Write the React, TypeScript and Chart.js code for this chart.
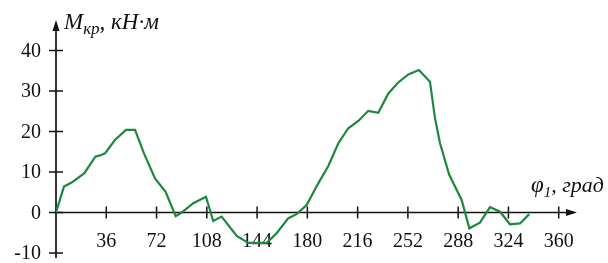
import React, { useEffect, useRef } from "react";
import { Chart, registerables } from "chart.js";

Chart.register(...registerables);

// Crank angle φ1, degrees
const phi: number[] = [
  0, 5.7, 11.2, 20.3, 28.2, 31.5, 35.1, 42.2, 50.1, 56.6, 63.0, 70.9, 78.5, 85.7, 90,
  98.3, 107.4, 112.6, 118.6, 129.4, 137.7, 150.9, 158, 166.4, 172.3, 179.5, 187.8,
  195.0, 202.2, 209.3, 216.5, 223.6, 230.8, 238.0, 245.1, 252.3, 259.9, 267.8, 271.4,
  275.0, 281.6, 290.5, 296, 303.6, 310.8, 318, 325.1, 332.3, 338.9,
];
// Torque M_кр, кН·м
const torque: number[] = [
  0, 6.4, 7.4, 9.7, 13.8, 14.1, 14.6, 17.9, 20.4, 20.4, 14.6, 8.4, 5.1, -0.9, 0,
  2.3, 3.9, -2.1, -1.0, -5.8, -7.5, -7.5, -5.1, -1.4, -0.4, 1.85, 7.2,
  11.5, 17.1, 20.8, 22.6, 25.1, 24.6, 29.4, 32.1, 34.1, 35.2, 32.3, 23.3,
  17.1, 9.3, 3.1, -3.9, -2.5, 1.3, 0.2, -2.9, -2.7, -0.4,
];
const xTicks: number[] = [36, 72, 108, 144, 180, 216, 252, 288, 324, 360];
const yTicks: number[] = [-10, 0, 10, 20, 30, 40];

const FONT = '"Liberation Serif", "Times New Roman", serif';

const axesPlugin = {
  id: "customAxes",
  beforeDatasetsDraw(chart: any) {
    const { ctx, chartArea, scales } = chart;
    const xs = scales.x;
    const ys = scales.y;
    const x0 = xs.getPixelForValue(0);
    const y0 = ys.getPixelForValue(0);
    ctx.save();
    ctx.strokeStyle = "#111";
    ctx.fillStyle = "#111";
    ctx.lineWidth = 1.7;
    // y axis
    ctx.beginPath();
    ctx.moveTo(x0, chartArea.bottom);
    ctx.lineTo(x0, chartArea.top + 6);
    ctx.stroke();
    ctx.beginPath();
    ctx.moveTo(x0, chartArea.top);
    ctx.lineTo(x0 - 3.5, chartArea.top + 11);
    ctx.lineTo(x0 + 3.5, chartArea.top + 11);
    ctx.closePath();
    ctx.fill();
    // x axis
    ctx.beginPath();
    ctx.moveTo(x0, y0);
    ctx.lineTo(chartArea.right - 6, y0);
    ctx.stroke();
    ctx.beginPath();
    ctx.moveTo(chartArea.right, y0);
    ctx.lineTo(chartArea.right - 11, y0 - 3.5);
    ctx.lineTo(chartArea.right - 11, y0 + 3.5);
    ctx.closePath();
    ctx.fill();
    // ticks
    ctx.lineWidth = 1.5;
    xTicks.forEach((v) => {
      const px = xs.getPixelForValue(v);
      ctx.beginPath();
      ctx.moveTo(px, y0 - 6);
      ctx.lineTo(px, y0 + 6);
      ctx.stroke();
    });
    yTicks.forEach((v) => {
      const py = ys.getPixelForValue(v);
      ctx.beginPath();
      ctx.moveTo(x0 - 7, py);
      ctx.lineTo(x0 + 7, py);
      ctx.stroke();
    });
    // tick labels
    ctx.font = `20px ${FONT}`;
    ctx.textAlign = "center";
    ctx.textBaseline = "alphabetic";
    xTicks.forEach((v) => {
      ctx.fillText(String(v), xs.getPixelForValue(v), y0 + 34);
    });
    ctx.textAlign = "right";
    ctx.textBaseline = "middle";
    yTicks.forEach((v) => {
      ctx.fillText(String(v), x0 - 15, ys.getPixelForValue(v) + 1);
    });
    // axis titles
    ctx.textAlign = "left";
    ctx.textBaseline = "alphabetic";
    let tx = x0 + 8;
    const ty = 29;
    ctx.font = `italic 23px ${FONT}`;
    ctx.fillText("M", tx, ty);
    tx += ctx.measureText("M").width;
    ctx.font = `italic 17px ${FONT}`;
    ctx.fillText("кр", tx, ty + 5);
    tx += ctx.measureText("кр").width;
    ctx.font = `italic 23px ${FONT}`;
    ctx.fillText(", кН·м", tx, ty);

    let px2 = 531;
    const py2 = 192;
    ctx.font = `italic 23px ${FONT}`;
    ctx.fillText("φ", px2, py2);
    px2 += ctx.measureText("φ").width;
    ctx.font = `italic 15px ${FONT}`;
    ctx.fillText("1", px2, py2 + 5);
    px2 += ctx.measureText("1").width;
    ctx.font = `italic 22px ${FONT}`;
    ctx.fillText(", град", px2, py2);
    ctx.restore();
  },
};

export default function App() {
  const ref = useRef<HTMLCanvasElement>(null);
  useEffect(() => {
    if (!ref.current) return;
    const chart = new Chart(ref.current, {
      type: "line",
      data: {
        datasets: [
          {
            data: phi.map((x, i) => ({ x, y: torque[i] })),
            borderColor: "rgb(30,135,62)",
            borderWidth: 2.2,
            pointRadius: 0,
            tension: 0,
            fill: false,
          },
        ],
      },
      options: {
        animation: false,
        responsive: false,
        maintainAspectRatio: false,
        layout: { padding: { left: 56, right: 31, top: 20, bottom: 5 } },
        plugins: { legend: { display: false }, tooltip: { enabled: false } },
        scales: {
          x: { type: "linear", min: 0, max: 373.1, display: false },
          y: { type: "linear", min: -11.23, max: 47.53, display: false },
        },
      },
      plugins: [axesPlugin],
    });
    return () => chart.destroy();
  }, []);
  return (
    <div style={{ position: "fixed", left: 0, top: 0, width: 608, height: 263, background: "#fff" }}>
      <canvas ref={ref} width={608} height={263} style={{ width: 608, height: 263, display: "block" }} />
    </div>
  );
}
